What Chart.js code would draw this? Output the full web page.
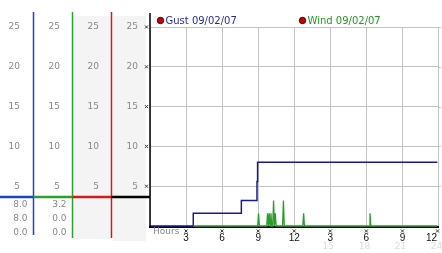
<!DOCTYPE html>
<html>
<head>
<meta charset="utf-8">
<script src="https://cdn.jsdelivr.net/npm/chart.js@4/dist/chart.umd.min.js"></script>
<style>
    html, body { margin: 0; padding: 0; background: #fff; }
    #wrap { width: 442px; height: 253px; position: relative; }
</style>
</head>
<body>
<div id="wrap"><canvas id="chart-wind"></canvas></div>
<script>
// ─── DATA ────────────────────────────────────────────────────
// hours since midnight on 09/02/07, speeds in mph
const gustHours = [0, 3.6, 7.6, 8.9, 8.95, 23.9];
const gustMph   = [0, 1.6, 3.2, 5.6, 8.0, 8.0];

const windHours = [3.6, 8.96, 9.03, 9.10, 9.71, 9.78, 9.85, 9.92, 9.99, 10.06, 10.13,
                   10.21, 10.28, 10.35, 10.42, 10.49, 11.03, 11.10, 11.17,
                   12.71, 12.78, 12.85, 18.23, 18.30, 18.37, 23.9];
const windMph   = [0, 0, 1.6, 0, 0, 1.6, 0, 1.6, 0, 1.6, 0,
                   0, 3.2, 0, 1.6, 0, 0, 3.2, 0,
                   0, 1.6, 0, 0, 1.6, 0, 0];

const yTicks      = [5, 10, 15, 20, 25];
const hourTicks   = [0, 3, 6, 9, 12, 15, 18, 21, 24];
const hourLabels  = ['', '3', '6', '9', '12', '3', '6', '9', '12'];
const pmHours     = [15, 18, 21, 24];
const pmLabels    = ['15', '18', '21', '24'];

const gustSummary = ['8.0', '8.0', '0.0'];   // max / latest / min
const windSummary = ['3.2', '0.0', '0.0'];

const GUST_COLOR = '#1a1a8e';
const WIND_COLOR = '#2a9e2a';

const toPoints = (xs, ys) => xs.map((x, i) => ({ x, y: ys[i] }));

// ─── LEFT PANEL + LABELS ─────────────────────────────────────
const panelPlugin = {
    id: 'panel',
    beforeDraw(chart) {
        const { ctx } = chart;
        ctx.save();
        ctx.fillStyle = '#fff';
        ctx.fillRect(0, 0, chart.width, chart.height);
        ctx.fillStyle = '#f4f4f4';
        ctx.fillRect(73, 16, 38, 223);
        ctx.fillRect(113, 16, 33, 225);
        ctx.restore();
    },
    afterDraw(chart) {
        const { ctx, scales: { x, y }, chartArea } = chart;
        ctx.save();

        // column rules
        const rule = (cx, top, bot, color) => {
            ctx.strokeStyle = color; ctx.lineWidth = 1.5;
            ctx.beginPath(); ctx.moveTo(cx, top); ctx.lineTo(cx, bot); ctx.stroke();
        };
        rule(33.5, 12, 235, '#1c44c8');
        rule(72.5, 12, 238, '#2ca02c');
        rule(111.5, 12, 238, '#c81e1e');

        // separator bar
        const bar = (x0, x1, color) => {
            ctx.strokeStyle = color; ctx.lineWidth = 2.5;
            ctx.beginPath(); ctx.moveTo(x0, 197); ctx.lineTo(x1, 197); ctx.stroke();
        };
        bar(0, 33.5, '#1c44c8');
        bar(33.5, 72.5, '#2ca02c');
        bar(72.5, 111.5, '#d01c1c');
        bar(111.5, chartArea.left, '#000');

        // plot axis line, reaching above the grid
        ctx.strokeStyle = '#000'; ctx.lineWidth = 1.5;
        ctx.beginPath(); ctx.moveTo(chartArea.left, 13); ctx.lineTo(chartArea.left, chartArea.bottom); ctx.stroke();

        // grid lines run a little past the last hour
        ctx.strokeStyle = '#c4c4c4'; ctx.lineWidth = 1;
        for (const v of yTicks) {
            const py = Math.round(y.getPixelForValue(v)) + 0.5;
            ctx.beginPath(); ctx.moveTo(chartArea.right, py); ctx.lineTo(441, py); ctx.stroke();
        }

        // y labels in the four columns
        ctx.font = '9px "DejaVu Sans", sans-serif';
        ctx.fillStyle = '#888';
        ctx.textAlign = 'right';
        ctx.textBaseline = 'middle';
        for (const v of yTicks) {
            const py = y.getPixelForValue(v);
            for (const rx of [20, 60, 99, 138]) ctx.fillText(String(v), rx, py);
        }

        // summary values
        const rows = [205, 219, 232.5];
        gustSummary.forEach((s, i) => ctx.fillText(s, 27.5, rows[i]));
        windSummary.forEach((s, i) => ctx.fillText(s, 66.5, rows[i]));

        // little tick marks
        const mark = (cx, cy) => {
            ctx.strokeStyle = '#333'; ctx.lineWidth = 1;
            ctx.beginPath();
            ctx.moveTo(cx - 1.5, cy - 1.5); ctx.lineTo(cx + 1.5, cy + 1.5);
            ctx.moveTo(cx + 1.5, cy - 1.5); ctx.lineTo(cx - 1.5, cy + 1.5);
            ctx.stroke();
        };
        for (const v of yTicks) mark(146.5, y.getPixelForValue(v));

        // hour labels
        ctx.textAlign = 'left';
        ctx.fillStyle = '#888';
        ctx.fillText('Hours', 153, 232);
        ctx.textAlign = 'center';
        hourTicks.forEach((h, i) => {
            if (!hourLabels[i]) return;
            const px = x.getPixelForValue(h);
            mark(Math.min(px, 437.5), 231);
            ctx.fillStyle = '#111';
            ctx.font = '10px "Liberation Sans", sans-serif';
            const w = ctx.measureText(hourLabels[i]).width;
            ctx.fillText(hourLabels[i], Math.min(px, 437 - w / 2), 238);
        });
        ctx.fillStyle = '#dcdcdc';
        ctx.font = '9px "DejaVu Sans", sans-serif';
        pmHours.forEach((h, i) => {
            const px = x.getPixelForValue(h);
            ctx.fillText(pmLabels[i], px - 2, 247);
        });

        // legend
        const legendX = [160.5, 302.5];
        chart.data.datasets.forEach((ds, i) => {
            ctx.fillStyle = '#c00000';
            ctx.strokeStyle = '#500';
            ctx.lineWidth = 1;
            ctx.beginPath(); ctx.arc(legendX[i], 20.5, 3.2, 0, Math.PI * 2); ctx.fill(); ctx.stroke();
            ctx.font = '10px "DejaVu Sans", sans-serif';
            ctx.textAlign = 'left';
            ctx.fillStyle = ds.legendColor;
            ctx.fillText(ds.label, legendX[i] + 5, 21);
        });

        ctx.restore();
    },
};

// ─── CHART ───────────────────────────────────────────────────
new Chart(document.getElementById('chart-wind'), {
    type: 'line',
    data: {
        datasets: [
            {
                label: 'Gust 09/02/07',
                legendColor: '#1f2fa0',
                data: toPoints(gustHours, gustMph),
                borderColor: GUST_COLOR,
                borderWidth: 1.5,
                stepped: true,
                pointRadius: 0,
                order: 2,
            },
            {
                label: 'Wind 09/02/07',
                legendColor: '#229a22',
                data: toPoints(windHours, windMph),
                borderColor: WIND_COLOR,
                borderWidth: 1.3,
                pointRadius: 0,
                order: 1,
            },
        ],
    },
    options: {
        responsive: true,
        maintainAspectRatio: false,
        animation: false,
        layout: { padding: { left: 150, right: 3.5, top: 27, bottom: 26 } },
        plugins: { legend: { display: false }, tooltip: { enabled: false } },
        scales: {
            x: {
                type: 'linear',
                min: 0, max: 24,
                afterBuildTicks: s => { s.ticks = hourTicks.map(v => ({ value: v })); },
                ticks: { display: false },
                grid: { color: '#c4c4c4', lineWidth: 1, drawTicks: false },
                border: { color: '#000', width: 2 },
            },
            y: {
                min: -0.125, max: 25,
                afterBuildTicks: s => { s.ticks = yTicks.map(v => ({ value: v })); },
                ticks: { display: false },
                grid: { color: '#c4c4c4', lineWidth: 1, drawTicks: false },
                border: { display: false },
            },
        },
    },
    plugins: [panelPlugin],
});
</script>
</body>
</html>
